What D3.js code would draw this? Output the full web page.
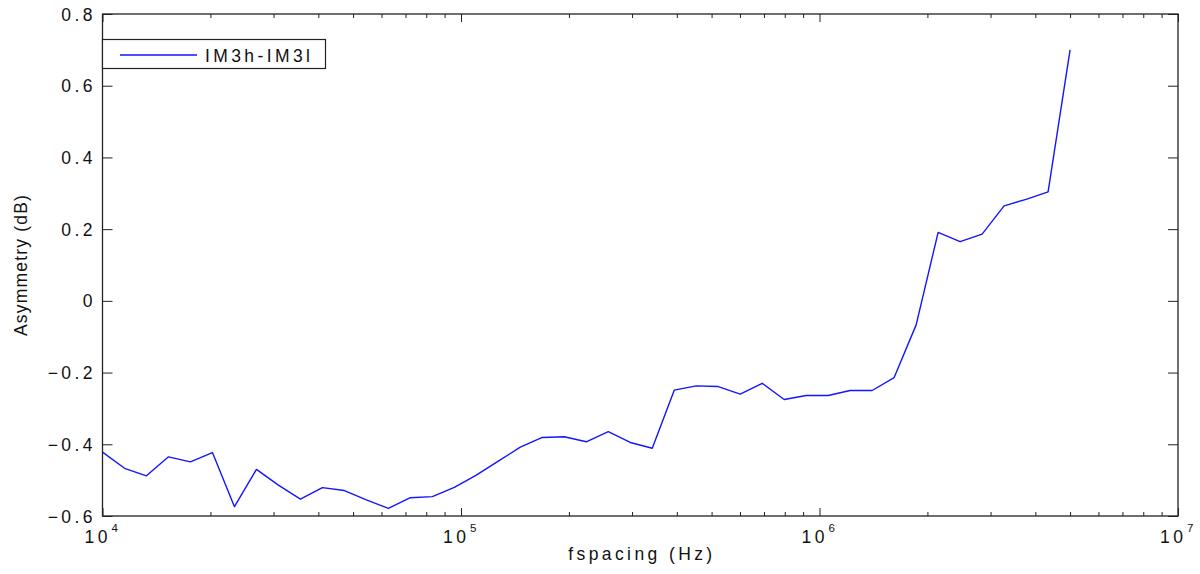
<!DOCTYPE html>
<html>
<head>
<meta charset="utf-8">
<script src="https://cdn.jsdelivr.net/npm/d3@7"></script>
<style>
  html, body { margin: 0; padding: 0; background: #fff; }
  svg { display: block; }
  text { font-family: "Liberation Sans", Arial, Helvetica, sans-serif; fill: #111; }
</style>
</head>
<body>
<svg id="chart" width="1200" height="574"></svg>
<script>
// Tone spacing (Hz) and IM3 high/low asymmetry (dB)
const fspacing = [
  10000, 11520, 13260, 15280, 17590, 20260, 23340, 26880, 30950, 35650,
  41060, 47290, 54460, 62720, 72240, 83200, 95820, 110350, 127090, 146370,
  168580, 194150, 223600, 257520, 296590, 341580, 393400, 453080, 521810, 600970,
  692140, 797140, 918070, 1057340, 1217740, 1402480, 1615240, 1860280, 2142480, 2467500,
  2841830, 3272940, 3769450, 4341270, 5000000
];
const asymmetry = [
  -0.422, -0.467, -0.488, -0.435, -0.449, -0.423, -0.574, -0.470, -0.514, -0.553,
  -0.521, -0.529, -0.555, -0.579, -0.549, -0.546, -0.520, -0.486, -0.447, -0.408,
  -0.381, -0.379, -0.393, -0.365, -0.395, -0.411, -0.249, -0.237, -0.239, -0.260,
  -0.230, -0.275, -0.264, -0.264, -0.250, -0.250, -0.214, -0.067, 0.191, 0.165,
  0.186, 0.265, 0.283, 0.304, 0.700
];
const seriesName = "IM3h-IM3l";
const xMajorTicks = [1e4, 1e5, 1e6, 1e7];
const xMajorExponents = ["4", "5", "6", "7"];
const yTicks = [-0.6, -0.4, -0.2, 0, 0.2, 0.4, 0.6, 0.8];
const xTitle = "fspacing (Hz)";
const yTitle = "Asymmetry (dB)";

const svg = d3.select("#chart");
const L = 102.5, R = 1178, T = 14, B = 516;
const FS = 17.5, LS = 3.4;   // label font size and letter spacing

const x = d3.scaleLog().domain([1e4, 1e7]).range([L, R]);
const y = d3.scaleLinear().domain([-0.6, 0.8]).range([B, T]);

// minor decade ticks 2..9 x 10^n
const xMinor = [];
for (let e = 4; e < 7; e++) for (let m = 2; m <= 9; m++) xMinor.push(m * Math.pow(10, e));

const axisColor = "#222";
function styleAxis(g) {
  g.select(".domain").remove();
  g.selectAll(".tick line").attr("stroke", axisColor).attr("stroke-width", 1);
  g.selectAll(".tick text").remove();
}

// bottom ticks (inward)
svg.append("g").attr("transform", `translate(0,${B})`)
  .call(d3.axisBottom(x).tickValues(xMinor).tickSize(-4).tickFormat(""))
  .call(styleAxis);
svg.append("g").attr("transform", `translate(0,${B})`)
  .call(d3.axisBottom(x).tickValues(xMajorTicks).tickSize(-8).tickFormat(""))
  .call(styleAxis);
// top ticks (inward)
svg.append("g").attr("transform", `translate(0,${T})`)
  .call(d3.axisTop(x).tickValues(xMinor).tickSize(-4).tickFormat(""))
  .call(styleAxis);
svg.append("g").attr("transform", `translate(0,${T})`)
  .call(d3.axisTop(x).tickValues(xMajorTicks).tickSize(-8).tickFormat(""))
  .call(styleAxis);
// left / right ticks (inward)
svg.append("g").attr("transform", `translate(${L},0)`)
  .call(d3.axisLeft(y).tickValues(yTicks).tickSize(-10).tickFormat(""))
  .call(styleAxis);
svg.append("g").attr("transform", `translate(${R},0)`)
  .call(d3.axisRight(y).tickValues(yTicks).tickSize(-10).tickFormat(""))
  .call(styleAxis);

// y tick labels
svg.append("g").selectAll("text").data(yTicks).join("text")
  .attr("x", L - 10 + LS)
  .attr("y", d => y(d) + 6.5)
  .attr("text-anchor", "end")
  .attr("font-size", FS)
  .attr("letter-spacing", LS)
  .text(d => d === 0 ? "0" : d3.format(".1f")(d));

// x tick labels: 10 with superscript exponent
const xl = svg.append("g").selectAll("g").data(xMajorTicks).join("g")
  .attr("transform", d => `translate(${x(d)},0)`);
xl.append("text")
  .attr("x", -18).attr("y", 543)
  .attr("font-size", FS)
  .attr("letter-spacing", LS)
  .text("10");
xl.append("text")
  .attr("x", 9).attr("y", 532)
  .attr("font-size", 11.5)
  .text((d, i) => xMajorExponents[i]);

// axis titles
svg.append("text")
  .attr("x", (L + R) / 2 + LS / 2).attr("y", 560)
  .attr("text-anchor", "middle")
  .attr("font-size", FS)
  .attr("letter-spacing", LS)
  .text(xTitle);
svg.append("text")
  .attr("transform", `translate(27,${(T + B) / 2}) rotate(-90)`)
  .attr("text-anchor", "middle")
  .attr("font-size", FS)
  .attr("letter-spacing", 1.2)
  .text(yTitle);

// data line
const line = d3.line().x(d => x(d[0])).y(d => y(d[1]));
svg.append("path")
  .datum(fspacing.map((f, i) => [f, asymmetry[i]]))
  .attr("fill", "none")
  .attr("stroke", "#1414ff")
  .attr("stroke-width", 1.4)
  .attr("stroke-linejoin", "round")
  .attr("d", line);

// frame
svg.append("rect")
  .attr("x", L).attr("y", T)
  .attr("width", R - L).attr("height", B - T)
  .attr("fill", "none").attr("stroke", axisColor).attr("stroke-width", 1.3);

// legend
const lg = svg.append("g");
lg.append("rect")
  .attr("x", L).attr("y", 39.5).attr("width", 223).attr("height", 29)
  .attr("fill", "#fff").attr("stroke", axisColor).attr("stroke-width", 1.2);
lg.append("line")
  .attr("x1", 120).attr("x2", 197).attr("y1", 55).attr("y2", 55)
  .attr("stroke", "#1414ff").attr("stroke-width", 1.4);
lg.append("text")
  .attr("x", 205).attr("y", 61.5)
  .attr("font-size", FS)
  .attr("letter-spacing", LS)
  .text(seriesName);
</script>
</body>
</html>
